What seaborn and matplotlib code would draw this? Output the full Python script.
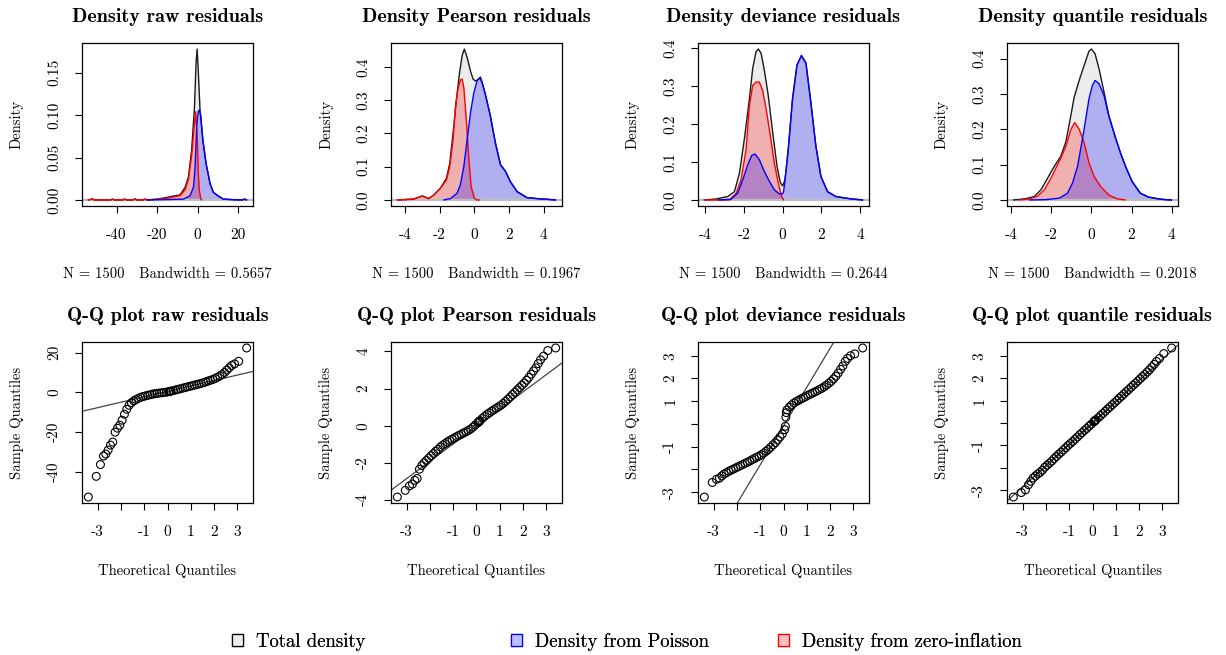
import matplotlib as mpl
mpl.use("Agg")
import matplotlib.pyplot as plt
from matplotlib.patches import Patch
import seaborn as sns

# ---- density curves ----
raw_total_x = [-53.9, -52, -51, -43, -42, -41, -37, -36, -35, -32, -31, -30, -27, -26, -25, -20, -15.3, -11.2,
               -8.7, -6.2, -4.6, -3.0, -1.6, -0.8, -0.3, 0.3, 1.1, 2.5, 4.1, 6.1, 7.7, 10.2, 12.6, 17.6, 22, 23, 24.1]
raw_total_y = [0, 0.0012, 0, 0, 0.001, 0, 0, 0.001, 0, 0, 0.0012, 0, 0, 0.001, 0, 0.001, 0.003, 0.005,
               0.006, 0.015, 0.027, 0.059, 0.11, 0.163, 0.178, 0.15, 0.107, 0.071, 0.043, 0.019, 0.009, 0.0045, 0.001, 0.0003, 0, 0.001, 0]
raw_red_x = [-53.9, -52, -51, -43, -42, -41, -37, -36, -35, -32, -31, -30, -27, -26, -25, -20, -15.3, -11.2,
             -8.7, -6.2, -4.6, -3.0, -1.6, -1.0, -0.2, 0.3, 0.8, 1.5, 2.0]
raw_red_y = [0, 0.0012, 0, 0, 0.001, 0, 0, 0.001, 0, 0, 0.0012, 0, 0, 0.001, 0, 0.0008, 0.002, 0.004,
             0.005, 0.012, 0.024, 0.052, 0.09, 0.104, 0.071, 0.031, 0.011, 0.001, 0]
raw_blue_x = [-25, -15, -7, -3.8, -2.1, -1.3, -0.5, 0.3, 0.8, 1.5, 2.5, 4.1, 6.1, 7.7, 10.2, 12.6, 17.6, 22, 23, 24.1]
raw_blue_y = [0, 0.0005, 0.001, 0.005, 0.015, 0.039, 0.087, 0.105, 0.106, 0.099, 0.071, 0.043, 0.019, 0.009,
              0.0045, 0.001, 0.0003, 0, 0.001, 0]

prs_total_x = [-4.44, -4.07, -3.5, -3.0, -2.63, -2.34, -1.96, -1.61, -1.42, -1.23, -1.04, -0.86, -0.71, -0.58, -0.42,
               -0.23, -0.08, 0.06, 0.21, 0.35, 0.63, 0.92, 1.21, 1.5, 1.79, 2.07, 2.46, 3.03, 3.61, 4.18, 4.68]
prs_total_y = [0, 0.001, 0.003, 0.012, 0.004, 0.015, 0.035, 0.065, 0.11, 0.20, 0.30, 0.38, 0.433, 0.453, 0.428,
               0.388, 0.363, 0.357, 0.362, 0.369, 0.317, 0.252, 0.171, 0.106, 0.086, 0.055, 0.025, 0.007, 0.004, 0.002, 0]
prs_red_x = [-4.44, -4.07, -3.5, -3.0, -2.63, -2.34, -1.96, -1.61, -1.42, -1.23, -1.09, -0.96, -0.81, -0.71, -0.61,
             -0.48, -0.33, -0.19, 0.0, 0.12, 0.3]
prs_red_y = [0, 0.001, 0.002, 0.012, 0.004, 0.015, 0.035, 0.06, 0.10, 0.18, 0.28, 0.33, 0.36, 0.363, 0.337,
             0.25, 0.13, 0.04, 0.005, 0, 0]
prs_blue_x = [-1.77, -1.38, -1.0, -0.81, -0.61, -0.42, -0.23, -0.04, 0.15, 0.29, 0.44, 0.63, 0.92, 1.21, 1.5, 1.79,
              2.07, 2.46, 3.03, 3.61, 4.18, 4.68]
prs_blue_y = [0, 0.004, 0.02, 0.045, 0.10, 0.18, 0.26, 0.32, 0.357, 0.366, 0.354, 0.317, 0.252, 0.171, 0.106, 0.086,
              0.055, 0.025, 0.007, 0.004, 0.002, 0]

dev_total_x = [-4.03, -3.5, -2.82, -2.48, -2.22, -1.97, -1.71, -1.54, -1.37, -1.25, -1.11, -0.94, -0.74, -0.51, -0.29,
               -0.12, 0.0, 0.12, 0.29, 0.51, 0.74, 0.97, 1.2, 1.45, 1.71, 1.97, 2.31, 2.74, 3.5, 4.12]
dev_total_y = [0, 0.002, 0.009, 0.022, 0.071, 0.16, 0.266, 0.346, 0.39, 0.397, 0.386, 0.341, 0.275, 0.177, 0.089,
               0.046, 0.037, 0.053, 0.133, 0.266, 0.355, 0.38, 0.36, 0.258, 0.142, 0.062, 0.022, 0.009, 0.003, 0]
dev_red_x = [-4.03, -2.74, -2.39, -2.14, -1.88, -1.71, -1.54, -1.37, -1.2, -1.03, -0.85, -0.63, -0.43, -0.22, -0.05, 0.05]
dev_red_y = [0, 0, 0.018, 0.053, 0.133, 0.248, 0.301, 0.31, 0.31, 0.288, 0.239, 0.168, 0.098, 0.044, 0.009, 0]
dev_blue_x = [-3.3, -2.65, -2.31, -2.05, -1.79, -1.59, -1.42, -1.2, -0.94, -0.68, -0.43, -0.17, 0.0, 0.05, 0.12,
              0.29, 0.51, 0.74, 0.97, 1.2, 1.45, 1.71, 1.97, 2.31, 2.74, 3.5, 4.12]
dev_blue_y = [0, 0.002, 0.018, 0.053, 0.093, 0.117, 0.121, 0.106, 0.075, 0.049, 0.027, 0.016, 0.016, 0.022, 0.05,
              0.133, 0.266, 0.355, 0.38, 0.36, 0.258, 0.142, 0.062, 0.022, 0.009, 0.003, 0]

qnt_total_x = [-3.89, -3.66, -3.25, -2.84, -2.51, -2.18, -1.85, -1.52, -1.27, -1.02, -0.86, -0.61, -0.36, -0.12,
               0.0, 0.18, 0.38, 0.63, 0.87, 1.2, 1.45, 1.7, 2.03, 2.44, 2.85, 3.35, 3.68, 4.0]
qnt_total_y = [0, 0.001, 0.004, 0.01, 0.029, 0.062, 0.095, 0.124, 0.165, 0.24, 0.29, 0.338, 0.381, 0.421,
               0.427, 0.414, 0.371, 0.305, 0.238, 0.176, 0.133, 0.095, 0.052, 0.019, 0.008, 0.003, 0.001, 0]
qnt_red_x = [-3.58, -3.09, -2.67, -2.34, -2.01, -1.77, -1.52, -1.27, -1.02, -0.83, -0.61, -0.36, -0.12, 0.13,
             0.46, 0.87, 1.29, 1.7]
qnt_red_y = [0, 0.003, 0.011, 0.029, 0.062, 0.09, 0.119, 0.152, 0.2, 0.219, 0.2, 0.162, 0.105, 0.067,
             0.038, 0.014, 0.003, 0]
qnt_blue_x = [-3.09, -2.26, -1.6, -1.19, -0.94, -0.69, -0.45, -0.28, -0.12, 0.05, 0.18, 0.38, 0.63, 0.87, 1.2,
              1.45, 1.7, 2.03, 2.44, 2.85, 3.35, 3.68, 4.0]
qnt_blue_y = [0, 0.001, 0.005, 0.019, 0.048, 0.095, 0.171, 0.229, 0.286, 0.324, 0.338, 0.329, 0.295, 0.238, 0.176,
              0.133, 0.095, 0.052, 0.019, 0.008, 0.003, 0.001, 0]

# ---- Q-Q plots: theoretical quantiles (shared) and sample quantiles ----
theo_q = [-3.40, -3.06, -2.88, -2.75, -2.65, -2.55, -2.45, -2.35, -2.25, -2.15, -2.05, -1.95, -1.85, -1.75,
          -1.65, -1.55, -1.45, -1.35, -1.25, -1.15, -1.05, -0.95, -0.85, -0.75, -0.65, -0.55, -0.45, -0.35,
          -0.25, -0.15, -0.05, 0.05, 0.08, 0.10, 0.12, 0.15, 0.25, 0.35, 0.45, 0.55, 0.65, 0.75, 0.85, 0.95,
          1.05, 1.15, 1.25, 1.35, 1.45, 1.55, 1.65, 1.75, 1.85, 1.95, 2.05, 2.15, 2.25, 2.35, 2.45, 2.55,
          2.65, 2.75, 2.88, 3.06, 3.40]
raw_q = [-52.6, -42.2, -36.3, -32, -31, -29, -26.5, -25, -20, -18, -16.5, -14, -11, -8.5, -6.5, -5.2, -4.3,
         -3.6, -3.0, -2.5, -2.1, -1.8, -1.5, -1.2, -0.9, -0.7, -0.5, -0.35, -0.2, -0.05, 0.1,
         0.3, 0.38, 0.45, 0.52, 0.6, 0.9, 1.2, 1.5, 1.8, 2.1, 2.4, 2.7, 3.0, 3.3, 3.6, 3.9, 4.2, 4.5, 4.9,
         5.3, 5.7, 6.1, 6.5, 7.0, 7.6, 8.3, 9.0, 10.0, 11.2, 12.3, 13.5, 14.3, 15.6, 22.3]
prs_q = [-3.85, -3.49, -3.25, -3.15, -2.95, -2.85, -2.35, -2.15, -2.0, -1.88, -1.75, -1.62, -1.5, -1.38,
         -1.28, -1.15, -1.05, -0.97, -0.88, -0.8, -0.73, -0.66, -0.59, -0.52, -0.46, -0.39, -0.33, -0.26,
         -0.18, -0.08, 0.04, 0.15, 0.19, 0.21, 0.24, 0.27, 0.39, 0.5, 0.6, 0.69, 0.78, 0.86, 0.94, 1.02,
         1.1, 1.2, 1.31, 1.43, 1.55, 1.68, 1.8, 1.93, 2.05, 2.18, 2.3, 2.45, 2.6, 2.78, 2.95, 3.12,
         3.35, 3.55, 3.75, 4.05, 4.19]
dev_q = [-3.21, -2.57, -2.43, -2.38, -2.28, -2.2, -2.14, -2.08, -2.03, -1.98, -1.93, -1.88, -1.83, -1.78,
         -1.73, -1.68, -1.63, -1.57, -1.52, -1.46, -1.41, -1.35, -1.28, -1.2, -1.12, -1.02, -0.92, -0.82,
         -0.7, -0.57, -0.44, -0.25, -0.1, 0.3, 0.5, 0.62, 0.74, 0.83, 0.92, 0.99, 1.04, 1.1, 1.15, 1.2,
         1.26, 1.31, 1.36, 1.41, 1.46, 1.52, 1.57, 1.64, 1.71, 1.79, 1.88, 1.98, 2.1, 2.24, 2.4, 2.55,
         2.75, 2.88, 3.0, 3.08, 3.34]
qnt_q = [-3.3, -3.1, -2.98, -2.75, -2.6, -2.45, -2.36, -2.27, -2.2, -2.1, -1.97, -1.88, -1.79, -1.7,
         -1.59, -1.49, -1.39, -1.3, -1.2, -1.1, -1.0, -0.91, -0.82, -0.72, -0.62, -0.52, -0.43, -0.33,
         -0.24, -0.14, -0.05, 0.05, 0.08, 0.1, 0.12, 0.15, 0.24, 0.34, 0.43, 0.53, 0.63, 0.72, 0.82, 0.91,
         1.01, 1.11, 1.2, 1.3, 1.4, 1.49, 1.59, 1.69, 1.78, 1.88, 1.98, 2.08, 2.17, 2.28, 2.38, 2.5,
         2.62, 2.75, 2.88, 3.1, 3.35]
# qqline intercept / slope
qq_lines = {"raw": (0.5, 2.73), "Pearson": (-0.05, 0.935), "deviance": (-0.09, 1.705), "quantile": (0.0, 0.948)}

bandwidths = ["0.5657", "0.1967", "0.2644", "0.2018"]
names = ["raw", "Pearson", "deviance", "quantile"]

sns.set_style("ticks")
plt.rcParams["font.family"] = ["cmr10", "DejaVu Serif"]
plt.rcParams["axes.unicode_minus"] = False
plt.rcParams["axes.edgecolor"] = "black"
plt.rcParams["xtick.color"] = "black"
plt.rcParams["ytick.color"] = "black"
plt.rcParams["text.color"] = "black"
plt.rcParams["axes.labelcolor"] = "black"

W, H = 1226, 655
fig = plt.figure(figsize=(12.26, 6.55), dpi=100)
fig.patch.set_facecolor("white")

lefts = [82, 391, 698, 1007]
box_w = 171


def make_ax(left, top, bottom):
    ax = fig.add_axes([left / W, 1 - bottom / H, box_w / W, (bottom - top) / H])
    for s in ax.spines.values():
        s.set_visible(True)
        s.set_linewidth(0.9)
        s.set_color("black")
    ax.tick_params(direction="out", length=5, width=0.8, labelsize=11)
    ax.tick_params(axis="x", pad=11)
    ax.tick_params(axis="y", pad=10)
    return ax


def finish(ax, title, xlab, ylab, h):
    ax.text(0.5, 1 + 26 / h, title, transform=ax.transAxes, ha="center", va="center",
            fontsize=14.5, family=["cmb10", "DejaVu Serif"])
    ax.set_xlabel(xlab, fontsize=10.5)
    ax.xaxis.set_label_coords(0.5, -68 / h)
    ax.xaxis.label.set_va("center")
    ax.set_ylabel(ylab, fontsize=10.5)
    ax.yaxis.set_label_coords(-65 / box_w, 0.5)
    ax.yaxis.label.set_va("center")
    for lab in ax.get_yticklabels():
        lab.set_rotation(90)
        lab.set_va("center")


dens = [
    (raw_total_x, raw_total_y, raw_blue_x, raw_blue_y, raw_red_x, raw_red_y,
     [-40, -20, 0, 20], ["-40", "-20", "0", "20"], [0, 0.05, 0.10, 0.15], ["0.00", "0.05", "0.10", "0.15"]),
    (prs_total_x, prs_total_y, prs_blue_x, prs_blue_y, prs_red_x, prs_red_y,
     [-4, -2, 0, 2, 4], ["-4", "-2", "0", "2", "4"], [0, 0.1, 0.2, 0.3, 0.4], ["0.0", "0.1", "0.2", "0.3", "0.4"]),
    (dev_total_x, dev_total_y, dev_blue_x, dev_blue_y, dev_red_x, dev_red_y,
     [-4, -2, 0, 2, 4], ["-4", "-2", "0", "2", "4"], [0, 0.1, 0.2, 0.3, 0.4], ["0.0", "0.1", "0.2", "0.3", "0.4"]),
    (qnt_total_x, qnt_total_y, qnt_blue_x, qnt_blue_y, qnt_red_x, qnt_red_y,
     [-4, -2, 0, 2, 4], ["-4", "-2", "0", "2", "4"], [0, 0.1, 0.2, 0.3, 0.4], ["0.0", "0.1", "0.2", "0.3", "0.4"]),
]

# top row: densities
for i, (tx, ty, bx, by, rx, ry, xt, xl, yt, yl) in enumerate(dens):
    ax = make_ax(lefts[i], 43, 206)
    ax.fill_between(tx, ty, 0, color="#ECECEC", lw=0, zorder=1)
    ax.fill_between(rx, ry, 0, color=(1, 0, 0, 0.25), lw=0, zorder=1.2)
    ax.fill_between(bx, by, 0, color=(0, 0, 1, 0.25), lw=0, zorder=1.3)
    ax.axhline(0, color="#BEBEBE", lw=1.6, zorder=1.5)
    sns.lineplot(x=tx, y=ty, ax=ax, color="#1a1a1a", lw=1.0, sort=False, estimator=None, zorder=2)
    sns.lineplot(x=rx, y=ry, ax=ax, color="red", lw=1.0, sort=False, estimator=None, zorder=2.1)
    sns.lineplot(x=bx, y=by, ax=ax, color="blue", lw=1.0, sort=False, estimator=None, zorder=2.2)
    x0, x1 = min(tx), max(tx)
    ymax = max(ty)
    ax.set_xlim(x0 - 0.04 * (x1 - x0), x1 + 0.04 * (x1 - x0))
    ax.set_ylim(-0.04 * ymax, 1.04 * ymax)
    ax.set_xticks(xt, xl)
    ax.set_yticks(yt, yl)
    finish(ax, f"Density {names[i]} residuals",
           f"N = 1500   Bandwidth = {bandwidths[i]}", "Density", 163)

# bottom row: Q-Q plots
qq = [
    (raw_q, [-40, -20, 0, 20], ["-40", "-20", "0", "20"]),
    (prs_q, [-4, -2, 0, 2, 4], ["-4", "-2", "0", "2", "4"]),
    (dev_q, [-3, -2, -1, 0, 1, 2, 3], ["-3", "", "-1", "", "1", "2", "3"]),
    (qnt_q, [-3, -2, -1, 0, 1, 2, 3], ["-3", "", "-1", "", "1", "2", "3"]),
]
for i, (sq, yt, yl) in enumerate(qq):
    ax = make_ax(lefts[i], 342, 503)
    sns.scatterplot(x=theo_q, y=sq, ax=ax, marker="o", s=32, facecolors="none",
                    edgecolor="black", linewidth=0.8, zorder=3)
    a, b = qq_lines[names[i]]
    ax.axline((0, a), slope=b, color="#454545", lw=0.9, zorder=2)
    x0, x1 = min(theo_q), max(theo_q)
    y0, y1 = min(sq), max(sq)
    ax.set_xlim(x0 - 0.04 * (x1 - x0), x1 + 0.04 * (x1 - x0))
    ax.set_ylim(y0 - 0.04 * (y1 - y0), y1 + 0.04 * (y1 - y0))
    ax.set_xticks([-3, -2, -1, 0, 1, 2, 3], ["-3", "", "-1", "0", "1", "2", "3"])
    ax.set_yticks(yt, yl)
    finish(ax, f"Q-Q plot {names[i]} residuals", "Theoretical Quantiles", "Sample Quantiles", 161)

# legend along the bottom
leg_items = [
    ("Total density", "#ECECEC", "black", 232),
    ("Density from Poisson", (0.75, 0.75, 1.0), "blue", 511),
    ("Density from zero-inflation", (1.0, 0.75, 0.75), "red", 778),
]
for label, fc, ec, xpos in leg_items:
    h = Patch(facecolor=fc, edgecolor=ec, linewidth=0.9, label=label)
    lg = fig.legend(handles=[h], loc="center left", bbox_to_anchor=(xpos / W, 1 - 642 / H),
                    frameon=False, fontsize=13.5, handlelength=0.6, handleheight=0.6,
                    handletextpad=0.7, borderpad=0, borderaxespad=0)
    fig.add_artist(lg)

fig.savefig("out.png", dpi=100, facecolor="white")
